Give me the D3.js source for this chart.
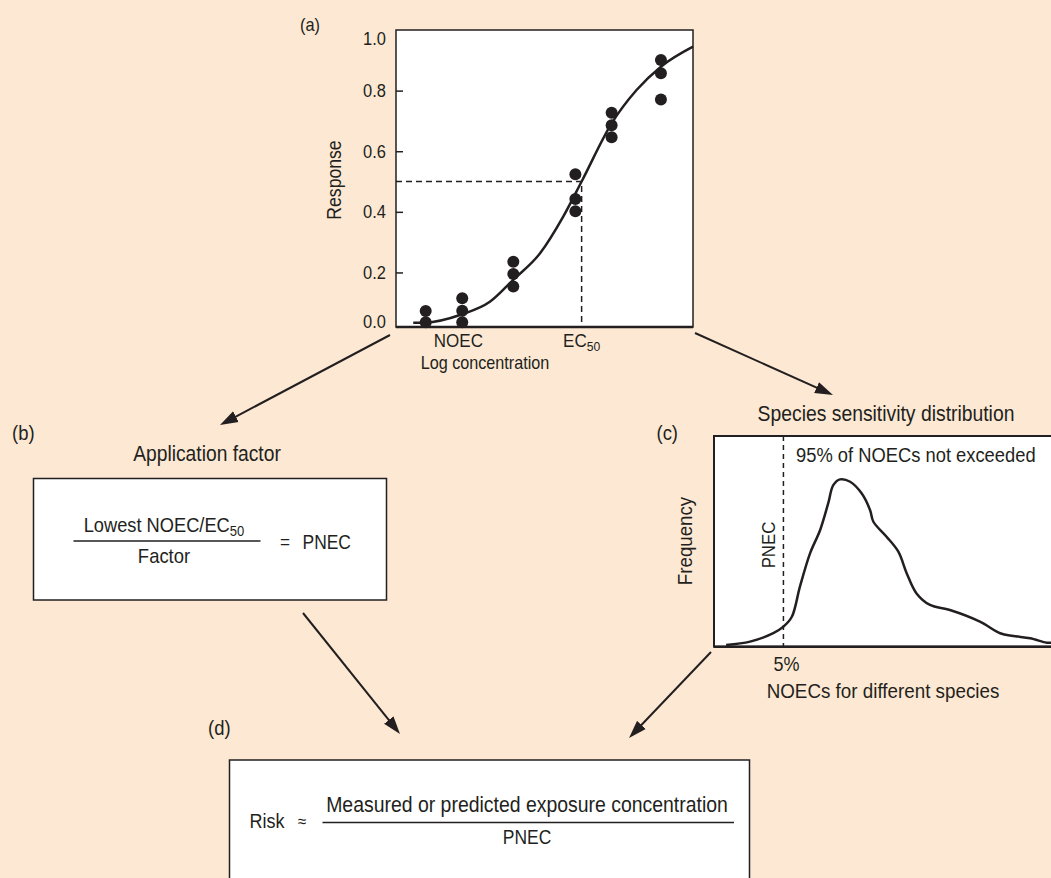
<!DOCTYPE html>
<html>
<head>
<meta charset="utf-8">
<script src="https://cdn.jsdelivr.net/npm/d3@7"></script>
<style>
  body { margin: 0; background: #fde9d3; }
  svg { display: block; }
  text { font-family: "Liberation Sans", Arial, sans-serif; fill: #231f20; }
</style>
</head>
<body>
<div id="chart"></div>
<script>
// (a) dose-response: log concentration groups and measured responses
const concGroups = [1.0, 2.23, 3.95, 6.04, 7.26, 8.92];
const responses = [
  [0.073, 0.036],
  [0.115, 0.074, 0.036],
  [0.235, 0.195, 0.154],
  [0.524, 0.442, 0.402],
  [0.727, 0.686, 0.646],
  [0.901, 0.857, 0.771]
];
// fitted curve
const fitX = [0.58, 0.91, 2.23, 3.16, 3.94, 4.85, 5.63, 6.25, 7.26, 8.10, 8.92, 10.0];
const fitY = [0.034, 0.034, 0.062, 0.103, 0.175, 0.263, 0.384, 0.50, 0.692, 0.802, 0.879, 0.945];
const yTicks = [0, 0.2, 0.4, 0.6, 0.8, 1.0];
const noecX = 2.1;
const ec50X = 6.25;
const ec50Y = 0.5;

// (c) species sensitivity distribution
const ssdX = [3.6, 10.7, 17.6, 20.6, 23.1, 25.5, 28.5, 31.5, 33.9, 35.4, 37.4, 40.4, 43.8, 46.3, 47.3,
  51.2, 54.7, 57.2, 60.1, 64.1, 70.0, 78.9, 84.9, 88.8, 93.8, 98.7, 100];
const ssdY = [0.008, 0.024, 0.064, 0.095, 0.142, 0.285, 0.443, 0.554, 0.681, 0.767, 0.794, 0.783, 0.728, 0.649, 0.593,
  0.522, 0.451, 0.348, 0.253, 0.198, 0.174, 0.119, 0.064, 0.051, 0.04, 0.019, 0.019];
const pnecX = 20.6;

const W = 1051, H = 878;
const ink = "#231f20";
const SX = 0.9; // horizontal squeeze, the original uses a condensed face

const svg = d3.select("#chart").append("svg")
  .attr("width", W)
  .attr("height", H);

svg.append("defs").append("marker")
  .attr("id", "head")
  .attr("viewBox", "0 -6.5 18 13")
  .attr("refX", 8)
  .attr("refY", 0)
  .attr("markerUnits", "userSpaceOnUse")
  .attr("markerWidth", 18)
  .attr("markerHeight", 13)
  .attr("orient", "auto")
  .append("path")
  .attr("d", "M0,-6L18,0L0,6Z")
  .attr("fill", ink);

// condensed text helper
function label(g, x, y, str, size, anchor = "start", rot = 0) {
  const t = g.append("text")
    .attr("transform", `translate(${x},${y})${rot ? ` rotate(${rot})` : ""} scale(${SX},1)`)
    .attr("text-anchor", anchor)
    .attr("font-size", size);
  if (str !== null) t.text(str);
  return t;
}

// ---------- panel (a) ----------
const xA = d3.scaleLinear().domain([0, 10]).range([396, 693]);
const yA = d3.scaleLinear().domain([0.02, 1]).range([327, 30]);

const gA = svg.append("g");

gA.append("rect")
  .attr("x", xA.range()[0])
  .attr("y", yA.range()[1])
  .attr("width", xA.range()[1] - xA.range()[0])
  .attr("height", yA.range()[0] - yA.range()[1])
  .attr("fill", "#fff")
  .attr("stroke", ink)
  .attr("stroke-width", 1.5);

const yAxis = d3.axisLeft(yA)
  .tickValues(yTicks)
  .tickSizeInner(-7)
  .tickSizeOuter(0)
  .tickPadding(10)
  .tickFormat(d3.format(".1f"));

const yAx = gA.append("g")
  .attr("transform", `translate(${xA.range()[0]},0)`)
  .call(yAxis);
yAx.select(".domain").remove();
yAx.selectAll("line").attr("stroke", ink).attr("stroke-width", 1.5);
yAx.selectAll("text")
  .attr("font-size", 18.3)
  .attr("font-family", '"Liberation Sans", Arial, sans-serif')
  .attr("fill", ink)
  .attr("x", -10 / SX)
  .attr("transform", `scale(${SX},1)`);
// end labels are pulled inside the frame in the original
yAx.selectAll(".tick").filter(d => d === 0 || d === 1)
  .call(t => t.select("line").remove())
  .select("text").attr("y", d => d === 0 ? -11 : 9);

gA.append("line")
  .attr("x1", xA.range()[0]).attr("x2", xA.range()[1])
  .attr("y1", yA.range()[0]).attr("y2", yA.range()[0])
  .attr("stroke", ink).attr("stroke-width", 2.5);

// EC50 guide lines
gA.append("path")
  .attr("d", `M${xA.range()[0]},${yA(ec50Y)}H${xA(ec50X)}V${yA.range()[0]}`)
  .attr("fill", "none")
  .attr("stroke", ink)
  .attr("stroke-width", 1.5)
  .attr("stroke-dasharray", "6,4");

gA.append("path")
  .datum(d3.zip(fitX, fitY))
  .attr("d", d3.line().x(d => xA(d[0])).y(d => yA(d[1])).curve(d3.curveMonotoneX))
  .attr("fill", "none")
  .attr("stroke", ink)
  .attr("stroke-width", 2.5);

const pts = concGroups.flatMap((c, i) => responses[i].map(r => ({ c, r })));
gA.selectAll("circle.pt")
  .data(pts)
  .join("circle")
  .attr("class", "pt")
  .attr("cx", d => xA(d.c))
  .attr("cy", d => yA(d.r))
  .attr("r", 6)
  .attr("fill", ink);

label(gA, 300, 31, "(a)", 18.2);
label(gA, 341, 180, "Response", 19.6, "middle", -90);
label(gA, xA(noecX), 346.5, "NOEC", 18.9, "middle");
const ec = label(gA, xA(ec50X), 346.5, null, 18.9, "middle");
ec.append("tspan").text("EC");
ec.append("tspan").attr("font-size", 13.5).attr("dy", 4).text("50");
label(gA, 485, 369, "Log concentration", 18, "middle");

// ---------- arrows ----------
const arrows = [
  [390, 335, 220, 425],
  [695, 333, 833, 395],
  [303, 613, 400, 734],
  [711, 652, 629, 738]
];
svg.selectAll("line.arrow")
  .data(arrows)
  .join("line")
  .attr("class", "arrow")
  .attr("x1", d => d[0]).attr("y1", d => d[1])
  .attr("x2", d => {
    const len = Math.hypot(d[2] - d[0], d[3] - d[1]);
    return d[2] - (d[2] - d[0]) / len * 10;
  })
  .attr("y2", d => {
    const len = Math.hypot(d[2] - d[0], d[3] - d[1]);
    return d[3] - (d[3] - d[1]) / len * 10;
  })
  .attr("stroke", ink)
  .attr("stroke-width", 2)
  .attr("marker-end", "url(#head)");

// ---------- panel (b) ----------
const gB = svg.append("g");
label(gB, 12, 440, "(b)", 20.5);
label(gB, 207, 461, "Application factor", 21.4, "middle");
gB.append("rect")
  .attr("x", 33.5).attr("y", 478.5)
  .attr("width", 353).attr("height", 121.5)
  .attr("fill", "#fff")
  .attr("stroke", ink)
  .attr("stroke-width", 1.5);

const num = label(gB, 164, 531.5, null, 20.3, "middle");
num.append("tspan").text("Lowest NOEC/EC");
num.append("tspan").attr("font-size", 14.5).attr("dy", 4).text("50");

gB.append("line")
  .attr("x1", 73.5).attr("x2", 260.5)
  .attr("y1", 541).attr("y2", 541)
  .attr("stroke", ink).attr("stroke-width", 1.5);
label(gB, 164, 562.5, "Factor", 20.5, "middle");
label(gB, 285, 548, "=", 19, "middle");
label(gB, 302.5, 549, "PNEC", 19.4);

// ---------- panel (c) ----------
const xC = d3.scaleLinear().domain([0, 100]).range([714, 1051]);
const yC = d3.scaleLinear().domain([0, 1]).range([646.7, 436]);
const gC = svg.append("g");

label(gC, 886, 420.5, "Species sensitivity distribution", 21.5, "middle");
label(gC, 656.5, 440, "(c)", 20.5);

gC.append("rect")
  .attr("x", xC(0)).attr("y", yC(1))
  .attr("width", 360).attr("height", yC(0) - yC(1))
  .attr("fill", "#fff")
  .attr("stroke", ink)
  .attr("stroke-width", 2);
gC.append("line")
  .attr("x1", xC(0)).attr("x2", W)
  .attr("y1", yC(0)).attr("y2", yC(0))
  .attr("stroke", ink).attr("stroke-width", 2.5);

gC.append("line")
  .attr("x1", xC(pnecX)).attr("x2", xC(pnecX))
  .attr("y1", yC(1)).attr("y2", yC(0))
  .attr("stroke", ink)
  .attr("stroke-width", 1.5)
  .attr("stroke-dasharray", "5,4");

gC.append("path")
  .datum(d3.zip(ssdX, ssdY))
  .attr("d", d3.line().x(d => xC(d[0])).y(d => yC(d[1])).curve(d3.curveCatmullRom))
  .attr("fill", "none")
  .attr("stroke", ink)
  .attr("stroke-width", 2.5);

label(gC, 796, 461.5, "95% of NOECs not exceeded", 20.4);
label(gC, 775, 545, "PNEC", 18.7, "middle", -90);
label(gC, 692, 541, "Frequency", 20.8, "middle", -90);
label(gC, xC(pnecX) + 3, 670.5, "5%", 20, "middle");
label(gC, 883, 698, "NOECs for different species", 20.9, "middle");

// ---------- panel (d) ----------
const gD = svg.append("g");
label(gD, 208, 735, "(d)", 20.5);
gD.append("rect")
  .attr("x", 229.5).attr("y", 760)
  .attr("width", 520).attr("height", 140)
  .attr("fill", "#fff")
  .attr("stroke", ink)
  .attr("stroke-width", 1.5);
label(gD, 249.5, 827.5, "Risk", 20);
label(gD, 302, 827, "≈", 17, "middle");
gD.append("line")
  .attr("x1", 322.5).attr("x2", 734)
  .attr("y1", 822.5).attr("y2", 822.5)
  .attr("stroke", ink).attr("stroke-width", 1.5);
label(gD, 527, 811.5, "Measured or predicted exposure concentration", 21.6, "middle");
label(gD, 527, 844, "PNEC", 19.4, "middle");
</script>
</body>
</html>
